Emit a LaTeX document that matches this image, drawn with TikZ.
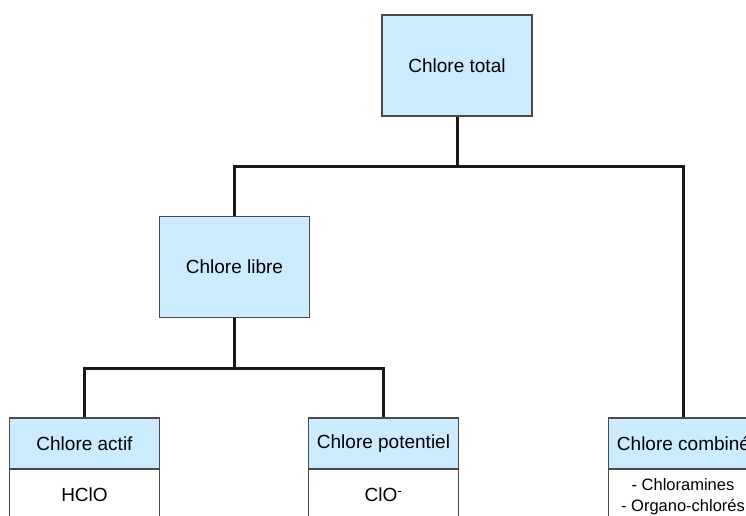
\documentclass[tikz,border=0pt]{standalone}
\usepackage{fontspec}
\setmainfont{Liberation Sans}
\definecolor{boxblue}{HTML}{CCEBFF}
\definecolor{boxline}{HTML}{4A4A4A}
\begin{document}
\begin{tikzpicture}[x=1pt,y=-1pt,
  bigbox/.style={draw=boxline,fill=boxblue,line width=1.4pt,minimum width=150pt,minimum height=101pt,inner sep=0pt,font=\fontsize{19}{22}\selectfont},
  hdrbox/.style={draw=boxline,fill=boxblue,line width=1.4pt,minimum width=150pt,minimum height=51pt,inner sep=0pt,font=\fontsize{19}{22}\selectfont},
  bodybox/.style={draw=boxline,fill=white,line width=1.4pt,minimum width=150pt,minimum height=90pt,inner sep=0pt},
  conn/.style={draw=black!90,line width=3pt},
  bodytxt/.style={font=\fontsize{19}{22}\selectfont,inner sep=0pt},
  smalltxt/.style={font=\fontsize{16.5}{20}\selectfont,inner sep=0pt}]
\useasboundingbox (0,0) rectangle (746,516);
\clip (0,0) rectangle (746,516);
\fill[white] (0,0) rectangle (746,516);
% top boxes
\node[bigbox] (total) at (457,65.5) {Chlore total};
\node[bigbox] (libre) at (234.5,267) {Chlore libre};
% bottom boxes: bodies first, headers above
\node[bodybox,anchor=north] (actifb) at (84.5,469) {};
\node[bodybox,anchor=north] (potb) at (383.5,469) {};
\node[bodybox,anchor=north] (combb) at (683.5,469) {};
\node[hdrbox] (actif) at (84.5,443.5) {Chlore actif};
\node[hdrbox] (pot) at (383.5,443.5) {Chlore potentiel};
\node[hdrbox] (comb) at (683.5,443.5) {Chlore combiné};
% body texts
\node[bodytxt] (hclo) at (84.5,495) {HClO};
\node[bodytxt] (clo) at (383.5,495) {ClO\textsuperscript{-}};
\node[smalltxt] (chloram) at (683,485) {- Chloramines};
\node[smalltxt] (organo) at (683,507) {- Organo-chlorés};
% connectors
\coordinate (j1) at (457,166);
\coordinate (j2) at (234.5,368);
\draw[conn] (total.south) -- (j1);
\draw[conn] (libre.north) |- (j1) -| (comb.north);
\draw[conn] (libre.south) -- (j2);
\draw[conn] (actif.north) |- (j2) -| (pot.north);
\end{tikzpicture}
\end{document}
